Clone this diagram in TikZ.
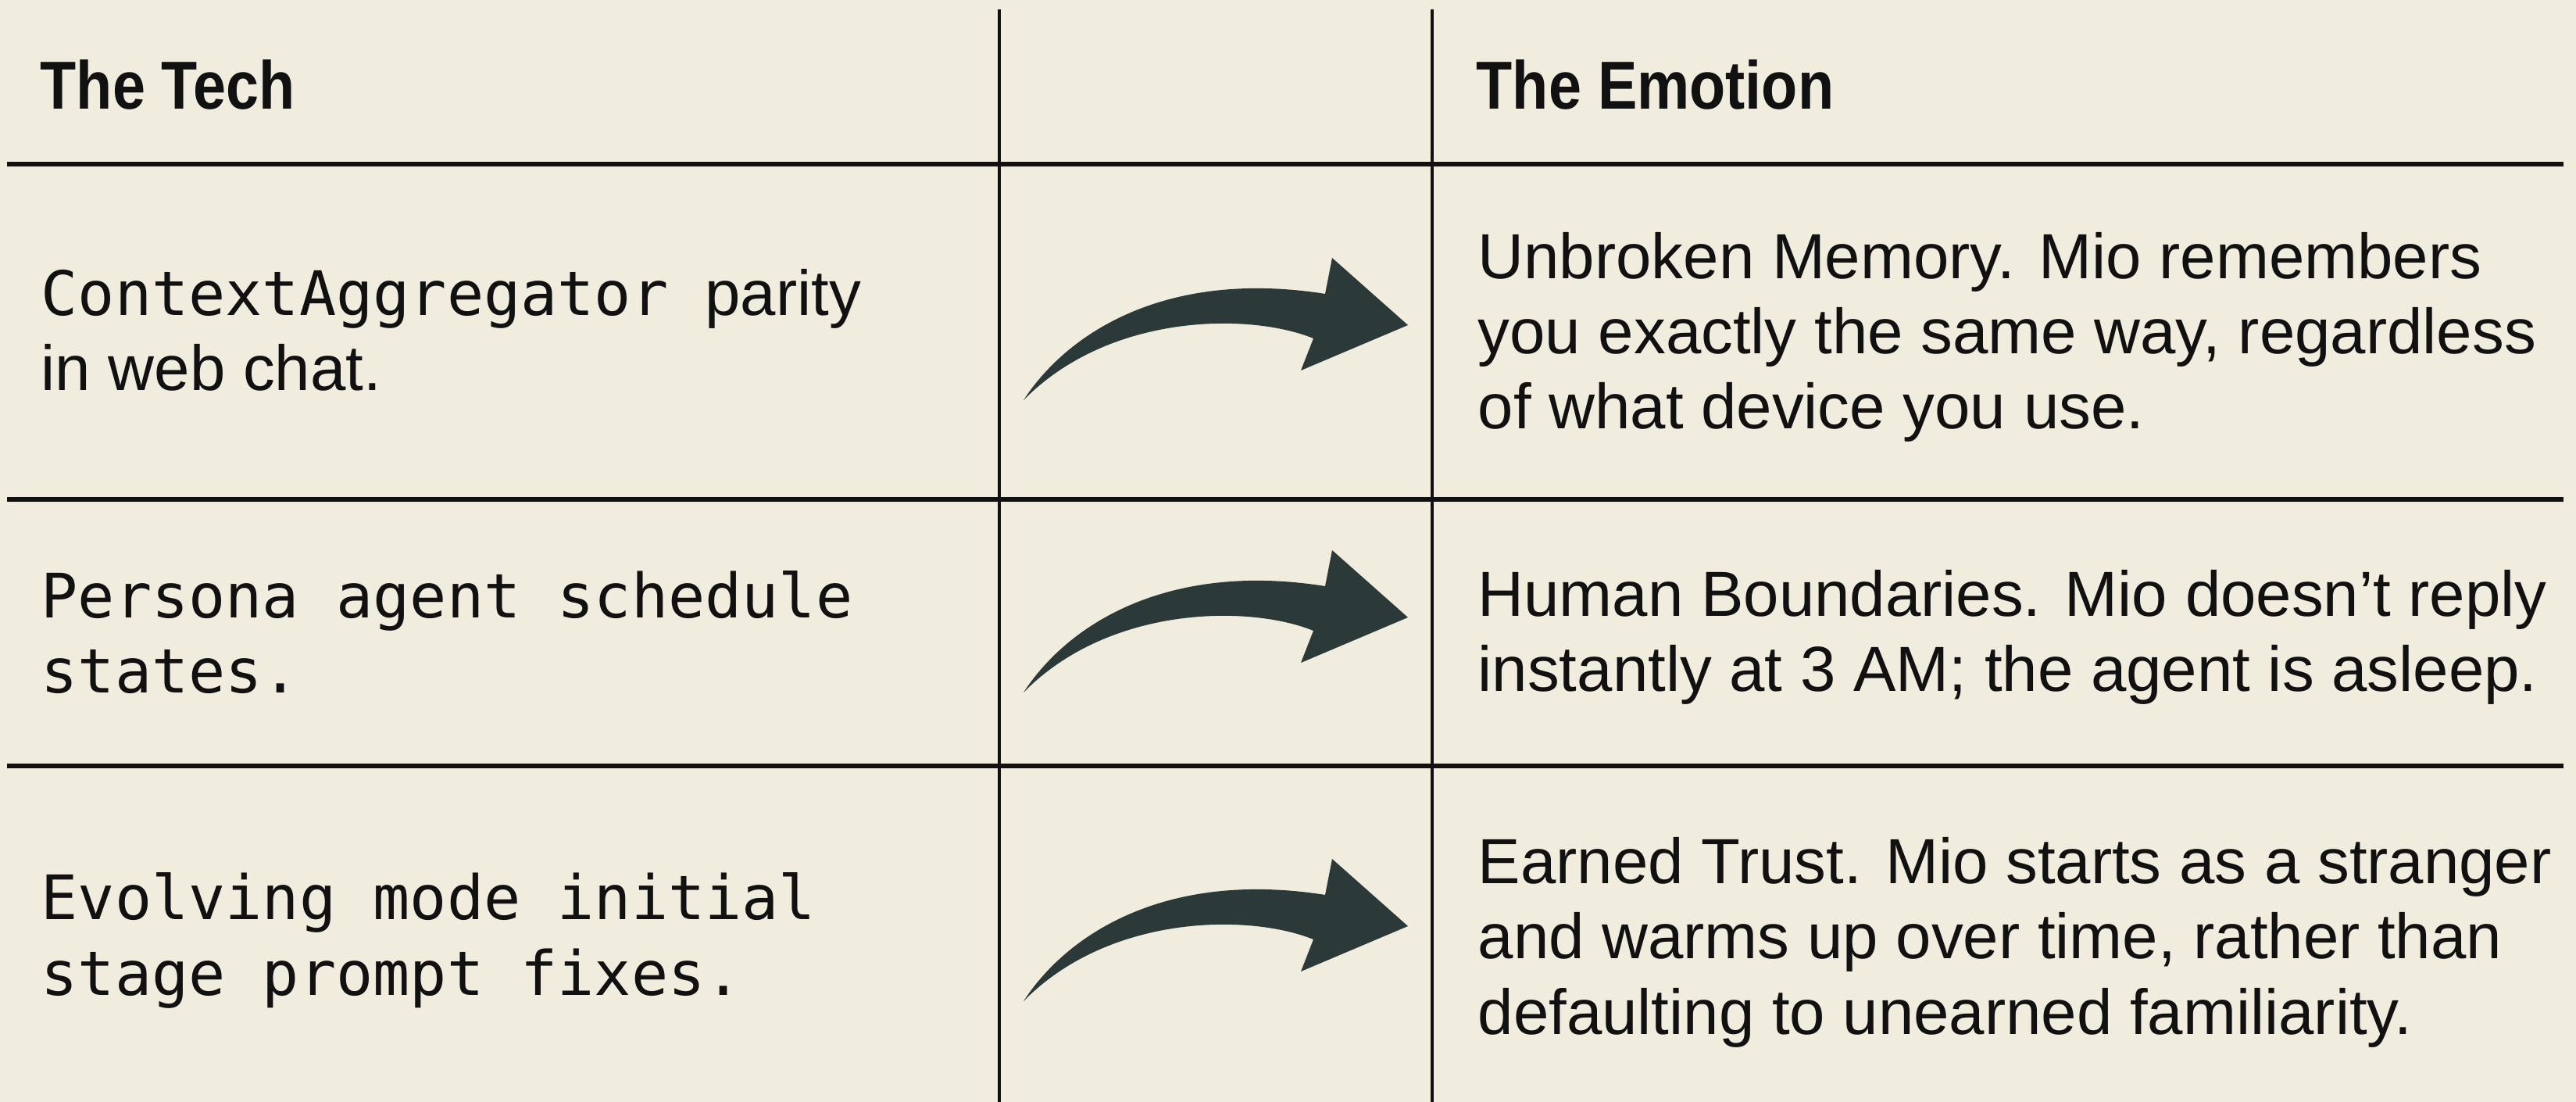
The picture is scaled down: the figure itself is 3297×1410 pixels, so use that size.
\documentclass[tikz,border=0pt]{standalone}
\usepackage{fontspec}
\setmainfont{Liberation Sans}
\newfontfamily\headfont[FakeStretch=0.87]{Liberation Sans}
\newfontfamily\codefont{DejaVu Sans Mono}
\newcommand{\codesize}{\fontsize{22.3}{27.4}\selectfont}
\definecolor{paper}{HTML}{F0ECDE}
\definecolor{ink}{HTML}{111111}
\definecolor{arrowc}{HTML}{2B3939}
\begin{document}
\begin{tikzpicture}[x=0.01cm,y=-0.01cm,
  hrule/.style={line width=1.5pt, draw=ink},
  vrule/.style={line width=1.1pt, draw=ink},
  headtext/.style={anchor=base west, inner sep=0pt, text=ink,
    font=\headfont\bfseries\fontsize{24.7}{30}\selectfont},
  bodytext/.style={anchor=base west, inner sep=0pt, align=left, text=ink,
    font=\fontsize{23.2}{27.4}\selectfont},
  codetext/.style={bodytext, font=\codefont\codesize},
  bigarrow/.pic={
    \fill[arrowc] (0,0)
      .. controls (60,-92) and (190,-167) .. (386,-136)
      -- (395,-182) -- (492,-96) -- (355,-38) -- (371,-79)
      .. controls (290,-112) and (110,-112) .. (0,0) -- cycle;
  }]
\useasboundingbox (0,0) rectangle (3297,1410);
\fill[paper] (0,0) rectangle (3297,1410);

% grid coordinates
\coordinate (hl1) at (9,210);   \coordinate (hr1) at (3281,210);
\coordinate (hl2) at (9,639);   \coordinate (hr2) at (3281,639);
\coordinate (hl3) at (9,980);   \coordinate (hr3) at (3281,980);
\coordinate (vt1) at (1279,12); \coordinate (vb1) at (1279,1410);
\coordinate (vt2) at (1833,12); \coordinate (vb2) at (1833,1410);

\draw[hrule] (hl1) -- (hr1);
\draw[hrule] (hl2) -- (hr2);
\draw[hrule] (hl3) -- (hr3);
\draw[vrule] (vt1) -- (vb1);
\draw[vrule] (vt2) -- (vb2);

% headers
\node[headtext] (htech) at (51,140) {The Tech};
\node[headtext] (hemo) at (1889,140) {The Emotion};

% row 1 (anchor: baseline of last line)
\node[bodytext] (t1) at (52,500) {{\codefont\codesize ContextAggregator }parity\\in web chat.};
\node[bodytext] (e1) at (1891,549) {Unbroken Memory. Mio remembers\\you exactly the same way, regardless\\of what device you use.};

% row 2
\node[codetext] (t2) at (52,887) {Persona agent schedule\\states.};
\node[bodytext] (e2) at (1891,885) {Human Boundaries. Mio doesn’t reply\\instantly at 3 AM; the agent is asleep.};

% row 3
\node[codetext] (t3) at (52,1273) {Evolving mode initial\\stage prompt fixes.};
\node[bodytext] (e3) at (1891,1323) {Earned Trust. Mio starts as a stranger\\and warms up over time, rather than\\defaulting to unearned familiarity.};

% arrows
\pic at (1310,512) {bigarrow};
\pic at (1310,886) {bigarrow};
\pic at (1310,1281) {bigarrow};
\end{tikzpicture}
\end{document}
